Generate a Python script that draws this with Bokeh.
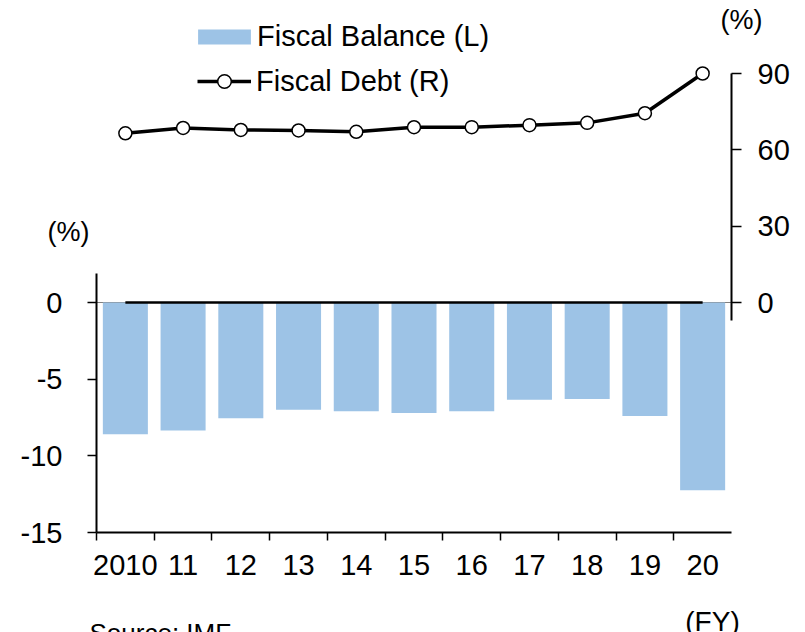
from bokeh.plotting import figure
from bokeh.models import (Range1d, LinearAxis, FixedTicker, Label, Legend, LegendItem)
from bokeh.embed import file_html
from bokeh.resources import INLINE

# ---- data ----
years = ["2010", "11", "12", "13", "14", "15", "16", "17", "18", "19", "20"]
balance = [-8.6, -8.35, -7.55, -7.0, -7.1, -7.2, -7.1, -6.35, -6.3, -7.4, -12.25]
debt = [66.5, 68.6, 67.8, 67.6, 67.1, 68.9, 68.9, 69.7, 70.6, 74.4, 90.0]
left_ticks = [-15, -10, -5, 0]
right_ticks = [0, 30, 60, 90]

FONT = "Liberation Sans"
FS = "29px"
BAR_COLOR = "#9DC3E6"

xs = list(range(len(years)))
X_LO, X_HI = xs[0] - 0.5, xs[-1] + 0.5

# layout constants (pixels): where the plotting area sits inside the canvas
W, H = 805, 632
A_LEFT, A_RIGHT, A_BOTTOM = 96, 731, 532
ZERO_PX = 302
L_PPU = (A_BOTTOM - ZERO_PX) / 15.0   # px per unit, left scale
R_PPU = (ZERO_PX - 73) / 90.0         # px per unit, right scale
X_PPU = (A_RIGHT - A_LEFT) / len(years)

# the frame covers the whole canvas; axes are pinned with fixed_location
x_range = Range1d(X_LO - A_LEFT / X_PPU, X_LO + (W - A_LEFT) / X_PPU)
y_left = Range1d(-(H - ZERO_PX) / L_PPU, ZERO_PX / L_PPU)
y_right = Range1d(-(H - ZERO_PX) / R_PPU, ZERO_PX / R_PPU)

p = figure(width=W, height=H, output_backend="svg", toolbar_location=None,
           x_range=x_range, y_range=y_left,
           min_border_left=0, min_border_right=0, min_border_top=0, min_border_bottom=0)
p.extra_y_ranges = {"right": y_right}
p.outline_line_color = None
p.xgrid.visible = False
p.ygrid.visible = False
p.background_fill_color = "white"
p.border_fill_color = "white"

def px2x(px):
    return X_LO + (px - A_LEFT) / X_PPU

def px2y(py):
    return (ZERO_PX - py) / L_PPU

# zero line (thin grey across the plot area, black between first and last year)
p.line(x=[X_LO, X_HI], y=[0, 0], line_color="#7f7f7f", line_width=1)
bars = p.vbar(x=xs, top=0, bottom=balance, width=0.78, fill_color=BAR_COLOR, line_color=None)
p.line(x=[xs[0], xs[-1]], y=[0, 0], line_color="black", line_width=2.5)

dl = p.line(x=xs, y=debt, y_range_name="right", line_color="black", line_width=3.5)
ds = p.scatter(x=xs, y=debt, y_range_name="right", size=13, fill_color="white",
               line_color="black", line_width=1.5)

# left axis
ya = p.yaxis[0]
ya.fixed_location = X_LO
ya.ticker = FixedTicker(ticks=left_ticks)
ya.major_label_overrides = {t: str(t) for t in left_ticks}
ya.bounds = (-15, 1.9)
ya.axis_line_width = 2
ya.major_tick_out = 9
ya.major_tick_in = 0
ya.major_tick_line_width = 1.5
ya.minor_tick_line_color = None
ya.major_label_standoff = 25
ya.major_label_text_font = FONT
ya.major_label_text_font_size = FS
ya.major_label_text_color = "black"

# bottom axis
xa = p.xaxis[0]
xa.fixed_location = -15
xa.bounds = (X_LO, X_HI)
xa.ticker = FixedTicker(ticks=xs, minor_ticks=[x - 0.5 for x in xs])
xa.major_label_overrides = {i: y for i, y in enumerate(years)}
xa.axis_line_width = 2
xa.major_tick_line_color = None
xa.major_tick_out = 8
xa.major_tick_in = 0
xa.minor_tick_out = 8
xa.minor_tick_in = 0
xa.minor_tick_line_color = "black"
xa.minor_tick_line_width = 1.5
xa.major_label_standoff = 14
xa.major_label_text_font = FONT
xa.major_label_text_font_size = FS
xa.major_label_text_color = "black"

# right axis
ra = LinearAxis(y_range_name="right", ticker=FixedTicker(ticks=right_ticks),
                bounds=(-7, 90), fixed_location=X_HI)
ra.axis_line_width = 2
ra.major_tick_out = 10
ra.major_tick_in = 0
ra.major_tick_line_width = 1.5
ra.minor_tick_line_color = None
ra.major_label_standoff = 16
ra.major_label_text_font = FONT
ra.major_label_text_font_size = FS
ra.major_label_text_color = "black"
p.add_layout(ra, "right")

# legends (one per item so each symbol can be sized on its own)
common = dict(orientation="vertical", padding=0, margin=0, border_line_color=None,
              background_fill_alpha=0, label_text_font=FONT, label_text_font_size=FS,
              label_text_color="black")
leg1 = Legend(items=[LegendItem(label="Fiscal Balance (L)", renderers=[bars])],
              location=(191, 579),
              glyph_width=66, glyph_height=19, label_standoff=0, **common)
leg2 = Legend(items=[LegendItem(label="Fiscal Debt (R)", renderers=[dl, ds])],
              location=(197, 534),
              glyph_width=54, glyph_height=34, label_standoff=5, **common)
p.add_layout(leg1, "center")
p.add_layout(leg2, "center")

def add_label(text, px, py, size, align="center"):
    p.add_layout(Label(x=px2x(px), y=px2y(py), text=text, text_align=align,
                       text_baseline="alphabetic", text_font=FONT, text_font_size=size,
                       text_color="black"))

add_label("(%)", 741, 19, "27px")
add_label("(%)", 68, 231, "27px")
add_label("(FY)", 712, 621, "28px")
add_label("Source: IMF", 89, 632, "26px", align="left")

open("out.html", "w").write(file_html(p, INLINE))
